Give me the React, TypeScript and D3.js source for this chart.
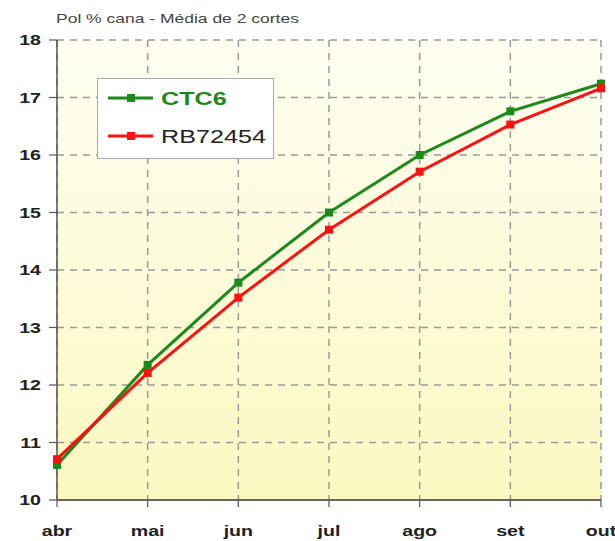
import React from "react";
import * as d3 from "d3";

const months = ["abr", "mai", "jun", "jul", "ago", "set", "out"];
const ctc6 = [10.61, 12.35, 13.78, 15.0, 16.0, 16.76, 17.24];
const rb72454 = [10.71, 12.21, 13.52, 14.7, 15.71, 16.53, 17.16];
const yTicks = [10, 11, 12, 13, 14, 15, 16, 17, 18];
const title = "Pol % cana - Média de 2 cortes";
const seriesNames = ["CTC6", "RB72454"];

const SX = 1.4;
const font = "'Liberation Sans', Arial, sans-serif";

function SText(props: { x: number; y: number; anchor?: string; size: number; weight?: string; fill: string; children: React.ReactNode }) {
  return (
    <text
      transform={`translate(${props.x},${props.y}) scale(${SX},1)`}
      textAnchor={props.anchor || "start"}
      fontFamily={font}
      fontSize={props.size}
      fontWeight={props.weight || "normal"}
      fill={props.fill}
    >
      {props.children}
    </text>
  );
}

export default function App() {
  const W = 615, H = 541;
  const left = 57, right = 601, top = 40, bottom = 500;
  const x = d3.scalePoint<string>().domain(months).range([left, right]);
  const y = d3.scaleLinear().domain([10, 18]).range([bottom, top]);
  const line = d3.line<number>().x((_, i) => x(months[i])!).y((d) => y(d));
  const green = "#1b8a1b";
  const red = "#ff1010";
  const series = [
    { name: seriesNames[0], data: ctc6, color: green },
    { name: seriesNames[1], data: rb72454, color: red },
  ];
  return (
    <svg width={W} height={H} style={{ position: "absolute", left: 0, top: 0, background: "#fff" }}>
      <defs>
        <linearGradient id="bg" x1="0" y1="0" x2="0" y2="1">
          <stop offset="0" stopColor="#fefef2" />
          <stop offset="1" stopColor="#fbf8c0" />
        </linearGradient>
      </defs>
      <rect x={left} y={top} width={right - left} height={bottom - top} fill="url(#bg)" />
      {yTicks.map((t) => (
        <line key={"gy" + t} x1={left} x2={right} y1={y(t)} y2={y(t)} stroke="#9a9a9a" strokeWidth={1.5} strokeDasharray="7,6" />
      ))}
      {months.map((m) => (
        <line key={"gx" + m} x1={x(m)} x2={x(m)} y1={top} y2={bottom} stroke="#9a9a9a" strokeWidth={1.5} strokeDasharray="7,6" />
      ))}
      <line x1={left} x2={left} y1={top} y2={bottom} stroke="#555" strokeWidth={1.5} />
      <line x1={left} x2={right} y1={bottom} y2={bottom} stroke="#666" strokeWidth={2} />
      {yTicks.map((t) => (
        <g key={"ty" + t}>
          <line x1={left - 8} x2={left} y1={y(t)} y2={y(t)} stroke="#555" strokeWidth={1.2} />
          <SText x={41} y={y(t) + 5} anchor="end" size={14} weight="bold" fill="#222">{t}</SText>
        </g>
      ))}
      {months.map((m) => (
        <g key={"tx" + m}>
          <line x1={x(m)} x2={x(m)} y1={bottom} y2={bottom + 7} stroke="#555" strokeWidth={1.2} />
          <SText x={x(m)!} y={536} anchor="middle" size={14} weight="bold" fill="#222">{m}</SText>
        </g>
      ))}
      <SText x={56} y={23} size={12.5} fill="#444">{title}</SText>
      {series.map((s) => (
        <g key={s.name}>
          <path d={line(s.data) || ""} fill="none" stroke={s.color} strokeWidth={3} />
          {s.data.map((v, i) => (
            <rect key={i} x={x(months[i])! - 4} y={y(v) - 4} width={8} height={8} fill={s.color} />
          ))}
        </g>
      ))}
      <rect x={97.5} y={78.5} width={176} height={80} fill="#fff" stroke="#aaa" strokeWidth={1} />
      {series.map((s, i) => {
        const ly = 98 + i * 38;
        return (
          <g key={"lg" + s.name}>
            <line x1={108} x2={153} y1={ly} y2={ly} stroke={s.color} strokeWidth={3} />
            <rect x={127} y={ly - 4} width={8} height={8} fill={s.color} />
            <SText x={161} y={ly + 6.5} size={18} weight={i === 0 ? "bold" : "normal"} fill={i === 0 ? green : "#222"}>{s.name}</SText>
          </g>
        );
      })}
    </svg>
  );
}
